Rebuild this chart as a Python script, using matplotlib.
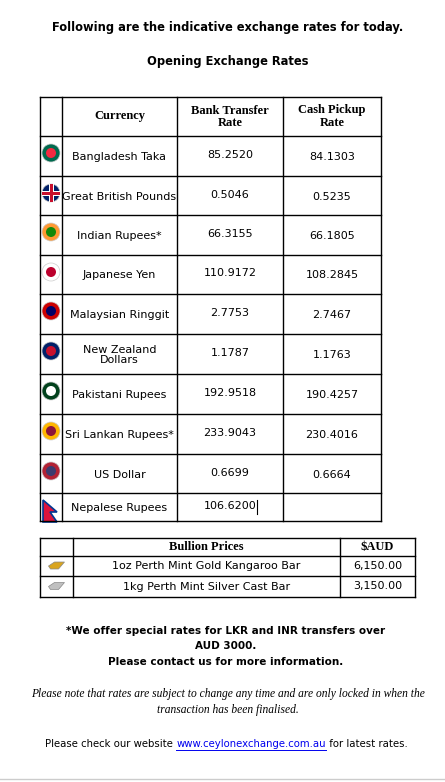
import matplotlib
matplotlib.use("Agg")
import matplotlib.pyplot as plt
from matplotlib.patches import Circle, Polygon, Rectangle

currencies = ["Bangladesh Taka", "Great British Pounds", "Indian Rupees*", "Japanese Yen",
              "Malaysian Ringgit", "New Zealand\nDollars", "Pakistani Rupees",
              "Sri Lankan Rupees*", "US Dollar", "Nepalese Rupees"]
bank_rate = ["85.2520", "0.5046", "66.3155", "110.9172", "2.7753", "1.1787",
             "192.9518", "233.9043", "0.6699", "106.6200"]
cash_rate = ["84.1303", "0.5235", "66.1805", "108.2845", "2.7467", "1.1763",
             "190.4257", "230.4016", "0.6664", ""]
bullion_items = ["1oz Perth Mint Gold Kangaroo Bar", "1kg Perth Mint Silver Cast Bar"]
bullion_prices = ["6,150.00", "3,150.00"]

flag_cols = [("#006a4e", "#f42a41"), ("#012169", "#c8102e"), ("#ff9933", "#138808"),
             ("#ffffff", "#bc002d"), ("#cc0001", "#010066"), ("#012169", "#c8102e"),
             ("#01411c", "#ffffff"), ("#ffb700", "#8d153a"), ("#b22234", "#3c3b6e"),
             ("#dc143c", "#003893")]

fig = plt.figure(figsize=(4.45, 7.82), dpi=100)
ax = fig.add_axes([0, 0, 1, 1])
ax.set_xlim(0, 445)
ax.set_ylim(782, 0)
ax.axis("off")

sans = "DejaVu Sans"
serif = "Liberation Serif"

ax.text(228, 28, "Following are the indicative exchange rates for today.", ha="center",
        va="center", fontsize=8.3, fontweight="bold", family=sans)
ax.text(228, 61, "Opening Exchange Rates", ha="center", va="center", fontsize=8.3,
        fontweight="bold", family=sans)

xs = [40, 62, 177, 283, 381]
ys = [97, 136, 176, 215, 255, 294, 334, 374, 414, 454, 493, 521]
lw = 1.0
for x in xs:
    ax.plot([x, x], [ys[0], ys[-1]], color="black", lw=lw)
for y in ys:
    ax.plot([xs[0], xs[-1]], [y, y], color="black", lw=lw)

hy = (ys[0] + ys[1]) / 2
ax.text((xs[1] + xs[2]) / 2, hy, "Currency", ha="center", va="center", fontsize=9,
        fontweight="bold", family=serif)
ax.text((xs[2] + xs[3]) / 2, hy, "Bank Transfer\nRate", ha="center", va="center",
        fontsize=9, fontweight="bold", family=serif, linespacing=1.0)
ax.text((xs[3] + xs[4]) / 2, hy, "Cash Pickup\nRate", ha="center", va="center",
        fontsize=9, fontweight="bold", family=serif, linespacing=1.0)

for i, name in enumerate(currencies):
    y0, y1 = ys[i + 1], ys[i + 2]
    cy = (y0 + y1) / 2 + 1
    ax.text((xs[1] + xs[2]) / 2, cy, name, ha="center", va="center", fontsize=8,
            family=sans, linespacing=1.0)
    ax.text((xs[2] + xs[3]) / 2, cy - 2, bank_rate[i], ha="center", va="center",
            fontsize=8, family=sans)
    ax.text((xs[3] + xs[4]) / 2, cy, cash_rate[i], ha="center", va="center",
            fontsize=8, family=sans)
    fx = (xs[0] + xs[1]) / 2
    fy = y0 + 17
    c1, c2 = flag_cols[i]
    if i == 9:
        ax.add_patch(Polygon([[fx - 8, fy - 10], [fx + 6, fy + 2], [fx - 1, fy + 2],
                              [fx + 6, fy + 12], [fx - 8, fy + 12]], closed=True,
                             facecolor=c1, edgecolor=c2, lw=1.2))
    elif i == 1:
        ax.add_patch(Circle((fx, fy), 9, facecolor=c1, edgecolor="#cccccc", lw=0.5))
        ax.add_patch(Rectangle((fx - 9, fy - 2.5), 18, 5, facecolor="white"))
        ax.add_patch(Rectangle((fx - 2.5, fy - 9), 5, 18, facecolor="white"))
        ax.add_patch(Rectangle((fx - 9, fy - 1.5), 18, 3, facecolor=c2))
        ax.add_patch(Rectangle((fx - 1.5, fy - 9), 3, 18, facecolor=c2))
    else:
        ax.add_patch(Circle((fx, fy), 9, facecolor=c1, edgecolor="#cccccc", lw=0.5))
        ax.add_patch(Circle((fx, fy), 5, facecolor=c2, edgecolor="none"))
# text cursor in Nepal bank cell
ax.plot([257, 257], [500, 514], color="black", lw=0.8)

# bullion table
bx = [40, 73, 340, 415]
by = [538, 556, 576, 597]
for x in bx:
    ax.plot([x, x], [by[0], by[-1]], color="black", lw=lw)
for y in by:
    ax.plot([bx[0], bx[-1]], [y, y], color="black", lw=lw)
ax.text((bx[1] + bx[2]) / 2, 547, "Bullion Prices", ha="center", va="center",
        fontsize=9, fontweight="bold", family=serif)
ax.text((bx[2] + bx[3]) / 2, 547, "$AUD", ha="center", va="center",
        fontsize=9, fontweight="bold", family=serif)
bar_cols = ["#d9a520", "#c0c0c0"]
for i, item in enumerate(bullion_items):
    cy = (by[i + 1] + by[i + 2]) / 2
    ax.text((bx[1] + bx[2]) / 2, cy, item, ha="center", va="center", fontsize=8, family=sans)
    ax.text((bx[2] + bx[3]) / 2, cy, bullion_prices[i], ha="center", va="center",
            fontsize=8, family=sans)
    mx = (bx[0] + bx[1]) / 2
    ax.add_patch(Polygon([[mx - 8, cy], [mx - 2, cy - 4], [mx + 8, cy - 4], [mx + 2, cy + 3],
                          [mx - 6, cy + 3]], closed=True, facecolor=bar_cols[i],
                         edgecolor="#888888", lw=0.5))

ax.text(226, 631, "*We offer special rates for LKR and INR transfers over", ha="center",
        va="center", fontsize=7.5, fontweight="bold", family=sans)
ax.text(226, 646, "AUD 3000.", ha="center", va="center", fontsize=7.5,
        fontweight="bold", family=sans)
ax.text(226, 662, "Please contact us for more information.", ha="center", va="center",
        fontsize=7.5, fontweight="bold", family=sans)
ax.text(228, 694, "Please note that rates are subject to change any time and are only locked in when the",
        ha="center", va="center", fontsize=8.3, style="italic", family=serif)
ax.text(228, 710, "transaction has been finalised.", ha="center", va="center", fontsize=8.3,
        style="italic", family=serif)

y = 744
t1 = ax.text(45, y, "Please check our website ", ha="left", va="center", fontsize=7.3, family=sans)
fig.canvas.draw()
r = fig.canvas.get_renderer()
bb = t1.get_window_extent(r)
inv = ax.transData.inverted()
xd = inv.transform((bb.x1, 0))[0]
t2 = ax.text(xd, y, "www.ceylonexchange.com.au", ha="left", va="center", fontsize=7.3,
             family=sans, color="#0000ee")
bb2 = t2.get_window_extent(r)
xe = inv.transform((bb2.x1, 0))[0]
ax.plot([xd, xe], [y + 6, y + 6], color="#0000ee", lw=0.7)
ax.text(xe, y, " for latest rates.", ha="left", va="center", fontsize=7.3, family=sans)
ax.plot([0, 445], [779, 779], color="#cccccc", lw=1)

fig.savefig("out.png", dpi=100)
